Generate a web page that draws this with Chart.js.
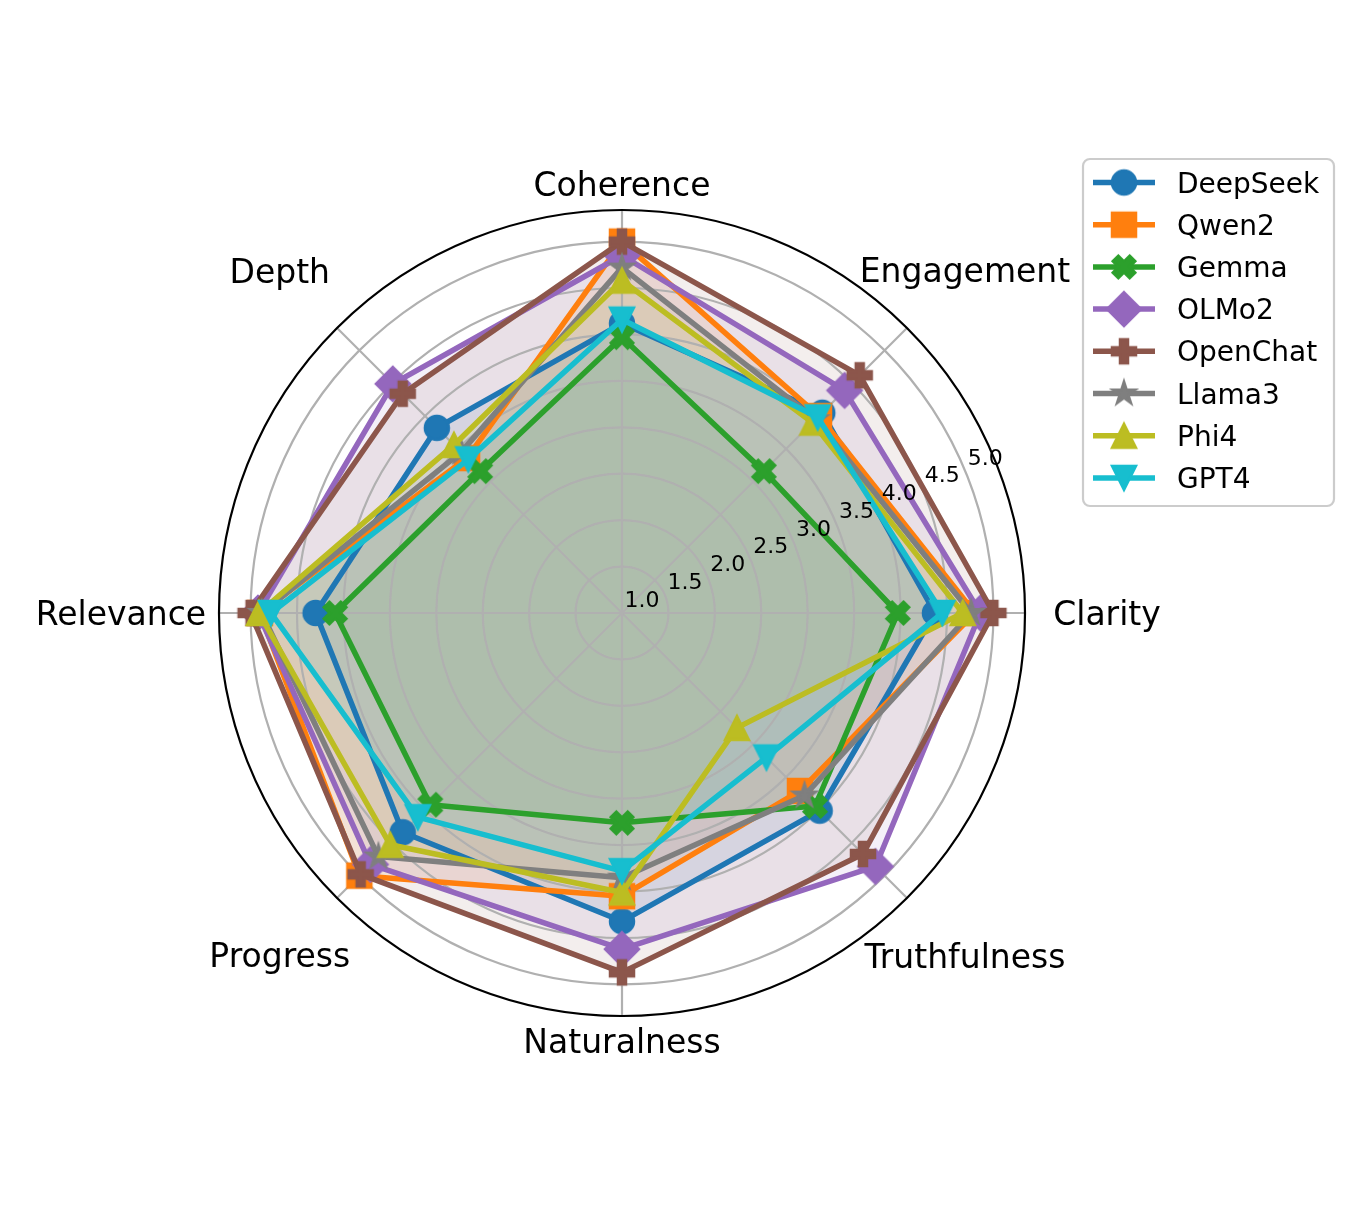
<!DOCTYPE html>
<html>
<head>
<meta charset="utf-8">
<script src="https://cdn.jsdelivr.net/npm/chart.js@4.4.0/dist/chart.umd.min.js"></script>
<style>
  html, body { margin: 0; padding: 0; background: #ffffff; }
  canvas { display: block; }
</style>
</head>
<body>
<canvas id="radarChart" width="1363" height="1205"></canvas>
<script>
// categories in Chart.js order (top, then clockwise)
const categories = ["Coherence", "Engagement", "Clarity", "Truthfulness", "Naturalness", "Progress", "Relevance", "Depth"];
const models = ["DeepSeek", "Qwen2", "Gemma", "OLMo2", "OpenChat", "Llama3", "Phi4", "GPT4"];

const deepseekScores = [4.12, 4.05, 4.37, 4.01, 4.32, 4.34, 4.30, 3.82];
const qwen2Scores    = [5.00, 4.00, 4.80, 3.71, 4.05, 5.00, 4.90, 3.36];
const gemmaScores    = [3.97, 3.16, 3.97, 3.94, 3.26, 3.92, 4.09, 3.16];
const olmo2Scores    = [4.85, 4.39, 4.86, 4.86, 4.62, 4.83, 4.92, 4.49];
const openchatScores = [5.00, 4.62, 5.00, 4.67, 4.87, 4.98, 5.00, 4.34];
const llama3Scores   = [4.72, 3.95, 4.76, 3.78, 3.85, 4.71, 4.88, 3.45];
const phi4Scores     = [4.58, 3.90, 4.67, 2.75, 4.01, 4.53, 4.91, 3.56];
const gpt4Scores     = [4.16, 3.98, 4.45, 3.20, 3.78, 4.11, 4.78, 3.34];

const rTicks = [1.0, 1.5, 2.0, 2.5, 3.0, 3.5, 4.0, 4.5, 5.0];
const rTickLabels = rTicks.map(v => v.toFixed(1));

const seriesScores = [deepseekScores, qwen2Scores, gemmaScores, olmo2Scores, openchatScores, llama3Scores, phi4Scores, gpt4Scores];
const colors = ["#1f77b4", "#ff7f0e", "#2ca02c", "#9467bd", "#8c564b", "#7f7f7f", "#bcbd22", "#17becf"];
const markerShapes = ["circle", "square", "x", "diamond", "plus", "star", "triUp", "triDown"];

const markerSize = 24;
const markerEdge = 2.5;

function hexToRgba(hex, a) {
    const n = parseInt(hex.slice(1), 16);
    return `rgba(${(n >> 16) & 255}, ${(n >> 8) & 255}, ${n & 255}, ${a})`;
}

// matplotlib-like markers drawn on small canvases
function makeMarker(shape, color) {
    const c = document.createElement("canvas");
    c.width = 44; c.height = 44;
    const g = c.getContext("2d");
    g.translate(22, 22);
    g.fillStyle = color;
    g.strokeStyle = color;
    g.lineWidth = markerEdge;
    g.lineJoin = "miter";
    const h = markerSize / 2;
    g.beginPath();
    if (shape === "circle") {
        g.arc(0, 0, h, 0, Math.PI * 2);
    } else if (shape === "square") {
        g.rect(-h, -h, 2 * h, 2 * h);
    } else if (shape === "diamond") {
        const d = h * Math.SQRT2;
        g.moveTo(0, -d); g.lineTo(d, 0); g.lineTo(0, d); g.lineTo(-d, 0); g.closePath();
    } else if (shape === "plus" || shape === "x") {
        const pts = [[-1,-3],[1,-3],[1,-1],[3,-1],[3,1],[1,1],[1,3],[-1,3],[-1,1],[-3,1],[-3,-1],[-1,-1]];
        const a = shape === "x" ? Math.PI / 4 : 0;
        pts.forEach(([x, y], k) => {
            const px = (x * Math.cos(a) - y * Math.sin(a)) / 6 * markerSize;
            const py = (x * Math.sin(a) + y * Math.cos(a)) / 6 * markerSize;
            if (k === 0) g.moveTo(px, py); else g.lineTo(px, py);
        });
        g.closePath();
    } else if (shape === "star") {
        for (let k = 0; k < 10; k++) {
            const r = (k % 2 === 0 ? 1 : 0.381966) * h;
            const t = Math.PI / 2 + k * Math.PI / 5;
            const px = r * Math.cos(t), py = -r * Math.sin(t);
            if (k === 0) g.moveTo(px, py); else g.lineTo(px, py);
        }
        g.closePath();
    } else if (shape === "triUp") {
        g.moveTo(0, -h); g.lineTo(h, h); g.lineTo(-h, h); g.closePath();
    } else if (shape === "triDown") {
        g.moveTo(0, h); g.lineTo(h, -h); g.lineTo(-h, -h); g.closePath();
    }
    g.fill();
    g.stroke();
    return c;
}

const markers = markerShapes.map((s, i) => makeMarker(s, colors[i]));

// per-label distance of the category text centre from the middle
const labelDistance = [429, 485, 485, 485, 428, 484, 501, 484];

const polarDecor = {
    id: "polarDecor",
    beforeDatasetsDraw(chart) {
        // grid above the fills, below the lines (like matplotlib)
        const scale = chart.scales.r;
        const ctx = chart.ctx;
        ctx.save();
        ctx.strokeStyle = "#b0b0b0";
        ctx.lineWidth = 2.2;
        rTicks.forEach(v => {
            const d = scale.getDistanceFromCenterForValue(v);
            if (d <= 0.5) return;
            ctx.beginPath();
            ctx.arc(scale.xCenter, scale.yCenter, d, 0, Math.PI * 2);
            ctx.stroke();
        });
        categories.forEach((c, i) => {
            const p = scale.getPointPosition(i, scale.drawingArea);
            ctx.beginPath();
            ctx.moveTo(scale.xCenter, scale.yCenter);
            ctx.lineTo(p.x, p.y);
            ctx.stroke();
        });
        ctx.restore();
    },
    afterDatasetsDraw(chart) {
        const scale = chart.scales.r;
        const ctx = chart.ctx;
        ctx.save();

        // outer frame
        ctx.strokeStyle = "#000000";
        ctx.lineWidth = 2.2;
        ctx.beginPath();
        ctx.arc(scale.xCenter, scale.yCenter, scale.drawingArea, 0, Math.PI * 2);
        ctx.stroke();

        // radial tick labels along 22.5 degrees
        ctx.fillStyle = "#000000";
        ctx.font = "22px 'DejaVu Sans'";
        ctx.textAlign = "center";
        ctx.textBaseline = "middle";
        rTicks.forEach((v, k) => {
            const p = scale.getPointPosition(1.5, scale.getDistanceFromCenterForValue(v));
            ctx.fillText(rTickLabels[k], p.x + 20, p.y - 12);
        });

        // category labels
        ctx.font = "33px 'DejaVu Sans'";
        ctx.textBaseline = "alphabetic";
        categories.forEach((c, i) => {
            const p = scale.getPointPosition(i, labelDistance[i]);
            ctx.fillText(c, p.x, p.y + 12);
        });

        // legend
        const lx = 1083, ly = 159, lw = 251, lh = 347, rad = 7;
        ctx.fillStyle = "rgba(255,255,255,0.8)";
        ctx.strokeStyle = "#cccccc";
        ctx.lineWidth = 2.2;
        ctx.beginPath();
        ctx.roundRect(lx, ly, lw, lh, rad);
        ctx.fill();
        ctx.stroke();
        ctx.font = "28px 'DejaVu Sans'";
        ctx.textAlign = "left";
        models.forEach((m, i) => {
            const y = 182.5 + i * 42.2;
            ctx.strokeStyle = colors[i];
            ctx.lineWidth = 5.5;
            ctx.lineCap = "butt";
            ctx.beginPath();
            ctx.moveTo(1093, y);
            ctx.lineTo(1155, y);
            ctx.stroke();
            ctx.drawImage(markers[i], 1124 - 22, y - 22);
            ctx.fillStyle = "#000000";
            ctx.fillText(m, 1177, y + 10);
        });
        ctx.restore();
    }
};

const datasets = models.map((m, i) => ({
    label: m,
    data: seriesScores[i],
    borderColor: colors[i],
    backgroundColor: hexToRgba(colors[i], 0.1),
    borderWidth: 5.5,
    borderJoinStyle: "round",
    fill: "start",
    pointStyle: markers[i],
    pointRadius: 12,
    pointBackgroundColor: colors[i],
    pointBorderColor: colors[i],
    order: -i
}));

new Chart(document.getElementById("radarChart"), {
    type: "radar",
    data: { labels: categories, datasets: datasets },
    options: {
        responsive: false,
        animation: false,
        layout: { padding: { left: 219, right: 338, top: 210, bottom: 189 } },
        plugins: {
            legend: { display: false },
            tooltip: { enabled: false },
            filler: { drawTime: "beforeDatasetsDraw" }
        },
        elements: { line: { tension: 0 } },
        scales: {
            r: {
                min: 1,
                max: 5.34,
                ticks: { display: false, stepSize: 0.5 },
                grid: { display: false },
                angleLines: { display: false },
                pointLabels: { display: false }
            }
        }
    },
    plugins: [polarDecor]
});
</script>
</body>
</html>
